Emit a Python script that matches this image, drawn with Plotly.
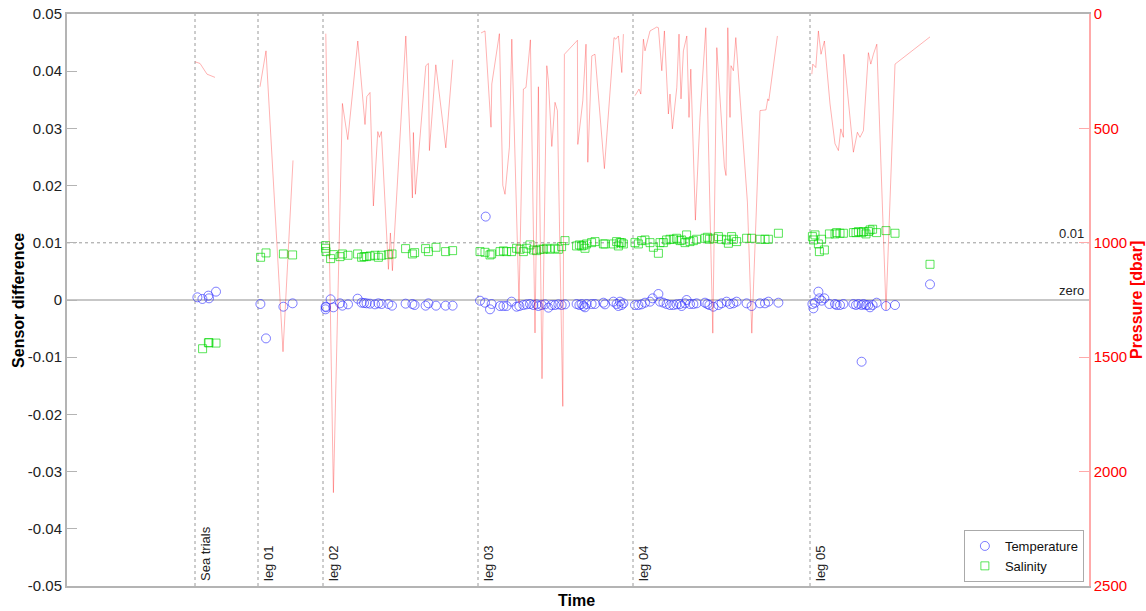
import plotly.graph_objects as go

# ---- data (time in days since start) ----
leg_names = ["Sea trials", "leg 01", "leg 02", "leg 03", "leg 04", "leg 05"]
leg_start = [64, 95.5, 128, 205.5, 283, 371.5]

y_tickvals = [-0.05, -0.04, -0.03, -0.02, -0.01, 0, 0.01, 0.02, 0.03, 0.04, 0.05]
y_ticktext = ["-0.05", "-0.04", "-0.03", "-0.02", "-0.01", "0", "0.01", "0.02", "0.03", "0.04", "0.05"]
p_tickvals = [0, 500, 1000, 1500, 2000, 2500]

# Temperature sensor difference (x 0.001)
temp_day = [65.2, 67.7, 70.7, 71, 74.5,
            96.7, 99.5, 108.2, 112.8,
            129.3, 129.3, 129.5, 131.8, 133.2, 136.5, 137.7, 140.5, 145.3, 147.3, 148.5, 149.8, 151.5, 154,
            155.7, 157.3, 160.7, 162.5, 169.3, 172.7, 173.8, 179.3, 180.7, 184.5, 189.3, 192.8,
            206.5, 209, 209.35, 211.5, 212.3, 216.5, 218.2, 219.8, 222.3, 224.8, 226.2, 228.2, 229.8, 231.5,
            233.2, 234.8, 235.7, 237.3, 239, 240.7, 242.3, 244, 245.7, 247.3, 249, 254.8, 256.2, 257.3, 258.2,
            259, 259.8, 262.3, 264, 268.2, 269, 273.2, 274.8, 275.7, 276.5, 277.3, 278.2,
            284, 285.7, 287.3, 289, 291.5, 292.8, 295.7, 296.5, 298.2, 299.8, 301.5, 303.2, 304.8, 306.5,
            307.3, 309, 309.8, 311.5, 313.2, 314.8, 319, 320.2, 321.2, 323.2, 325.7, 327.3, 329.8, 331.5,
            333.2, 334.8, 339.8, 342.3, 346.5, 349, 350.7, 355.7,
            372.7, 373.2, 374, 375.7, 376.2, 377.3, 378.7, 381.2, 384, 384.8, 386.5, 388.2, 393.2, 394.5,
            395.7, 397.3, 398.2, 399.5, 400.7, 401.5, 402.8, 404.8, 409.5, 414, 397.3, 431.5]
temp_milli = [0.47, 0.18, 0.76, 0.29, 1.46,
              -0.7, -6.71, -1.17, -0.58,
              -1.17, -1.63, -1.28, 0.12, -1.28, -0.58, -0.99, -0.76, 0.23, -0.47, -0.52, -0.58, -0.64, -0.76,
              -0.58, -0.7, -0.7, -0.99, -0.64, -0.7, -0.88, -0.99, -0.58, -0.99, -0.99, -0.99,
              -0.12, -0.47, 14.58, -1.63, -0.7, -1.05, -1.05, -1.05, -0.29, -1.17, -1.05, -0.88, -0.76, -0.7,
              -0.88, -0.76, -1.05, -0.88, -0.76, -1.34, -0.88, -0.88, -0.76, -0.88, -0.76, -0.7, -0.88, -0.7, -1.05,
              -1.28, -0.7, -0.7, -0.7, -0.47, -0.76, -0.29, -0.7, -1.05, -0.29, -0.88, -0.58,
              -0.88, -0.88, -0.76, -0.47, -0.29, 0.29, 1.05, -0.29, -0.47, -0.7, -0.88, -0.88, -0.76, -0.7,
              -1.05, -0.58, 0.0, -0.7, -0.7, -0.58, -0.47, -0.7, -0.88, -1.17, -0.88, -0.58, -0.29, -0.7,
              -0.58, -0.29, -0.58, -1.05, -0.58, -0.58, -0.29, -0.47,
              -0.7, -1.46, -0.47, 1.46, 0.29, -0.12, 0.29, -0.7, -0.7, -0.88, -0.88, -0.7, -0.7, -0.88,
              -0.7, -0.88, -0.7, -0.88, -0.88, -1.28, -0.88, -0.47, -1.05, -0.88, -10.79, 2.74]

# Salinity sensor difference (x 0.001)
sal_day = [67.8, 70.7, 71, 74.5,
           96.8, 99.5, 108.2, 112.8,
           129.3, 129.3, 129.5, 131.8, 133.2, 136.5, 137.7, 140.5, 145.3, 147.3, 148.5, 149.8, 151.5, 154,
           155.7, 157.3, 160.7, 162.5, 169.3, 172.7, 173.8, 179.3, 180.7, 184.5, 189.3, 192.8,
           206.5, 209, 211.5, 212.3, 216.5, 218.2, 219.8, 222.3, 224.8, 226.5, 228.2, 229.8, 231.5, 233.2,
           234.8, 236.5, 238.2, 239.8, 241.5, 244, 245.7, 247.3, 249, 254.8, 256.2, 257.3, 258.2, 259, 259.8,
           262.3, 264, 268.2, 269, 273.2, 274.8, 275.7, 276.5, 277.3, 278.2,
           284, 285.7, 287.3, 289, 291.5, 293.2, 295.7, 296.5, 298.2, 299.8, 301.5, 303.2, 304.8, 306.5,
           307.3, 309, 309.8, 311.5, 313.2, 314.8, 319, 320.2, 321.2, 323.2, 325.7, 327.3, 329.8, 330.7,
           332.3, 333.2, 334.8, 339.8, 342.3, 346.5, 349, 350.7, 355.7,
           372.7, 373.2, 374, 375.7, 376.2, 377.3, 378.7, 381.2, 384, 384.8, 386.5, 388.2, 393.2, 394.5,
           395.7, 397.3, 398.2, 399.5, 400.7, 401.5, 402.8, 404.8, 409.5, 414, 431.5]
sal_milli = [-8.52, -7.47, -7.47, -7.53,
             7.47, 8.23, 8.05, 7.88,
             9.51, 9.04, 8.46, 7.23, 7.93, 7.58, 8.05, 7.82, 8.05, 7.47, 7.58, 7.58, 7.7, 7.82,
             7.47, 7.82, 7.93, 8.05, 8.98, 8.05, 8.28, 8.98, 8.46, 9.22, 8.46, 8.63,
             8.46, 8.34, 7.88, 8.05, 8.46, 8.58, 8.46, 8.46, 9.04, 8.87, 8.46, 9.04, 9.63, 8.75,
             8.63, 8.87, 8.87, 9.04, 8.87, 9.04, 8.87, 9.33, 10.38, 9.45, 9.63, 9.45, 9.57, 9.04, 9.8,
             10.03, 10.21, 9.8, 9.8, 9.8, 10.21, 9.45, 10.03, 10.03, 9.8,
             10.03, 9.8, 10.38, 10.5, 10.03, 9.22, 8.17, 10.03, 10.03, 10.5, 10.62, 10.62, 10.79, 10.38,
             10.5, 10.03, 11.38, 10.21, 10.38, 10.62, 10.79, 10.97, 10.62, 10.79, 11.08, 10.62, 10.5, 9.92,
             11.08, 10.62, 10.21, 10.79, 10.79, 10.62, 10.62, 10.62, 11.67,
             11.08, 10.5, 11.38, 9.8, 8.46, 10.62, 8.75, 11.55, 11.55, 11.78, 11.67, 11.67, 11.78, 11.78,
             11.96, 11.78, 11.96, 11.55, 11.96, 12.25, 12.37, 11.78, 12.13, 11.67, 6.24]

# Pressure [dbar], one list per deployment (gaps between them)
pres_day_seg = [
    [64, 66.5, 70, 74],
    [96.5, 99.5, 108, 113],
    [129.4, 133.2, 137.7, 140.4, 145.4, 149, 149.9, 151.5, 153.2, 155.4, 156.2, 157.2, 160.7, 161.7,
     162.7, 169.4, 172.7, 173.2, 174.2, 179.4, 180.7, 181.2, 184.4, 189.4, 192.9],
    [207, 209, 212, 212.4, 216.2, 217.9, 219, 221.2, 222.4, 226, 228.2, 229.5, 231.7, 234, 235.7,
     237.5, 239.9, 240.7, 242.4, 244, 245.2, 247.9, 248.7, 255.2, 255.4, 256.5, 257.9, 259.5, 260.4,
     262.4, 264, 268.7, 273.5, 274.4, 275.7, 277.4, 278.2],
    [284, 286, 286.9, 288.2, 289, 291.5, 294.9, 295.7, 297.4, 298.7, 300.7, 301.5, 302.7, 304.9, 306,
     307, 308.2, 309.9, 311, 311.9, 314.2, 316.5, 319.4, 322.9, 324.9, 328.7, 329.5, 330.4, 331.5, 332,
     333.2, 334.4, 340.2, 342.4, 346.5, 349.5, 350.4, 350.9, 355.2],
    [372.4, 372.9, 374.4, 375.7, 377, 378.7, 381.5, 384, 385.7, 386.9, 388.2, 388.4, 393.2, 395.2,
     396.5, 398.2, 400.7, 401.9, 403.2, 404.9, 409.5, 414, 431.5],
]
pres_dbar_seg = [
    [209, 216, 263, 277],
    [318, 161, 1476, 640],
    [86, 2092, 391, 549, 118, 483, 361, 343, 839, 514, 539, 514, 1116, 957,
     1122, 96, 804, 518, 788, 226, 216, 597, 222, 585, 200],
    [83, 74, 495, 306, 86, 749, 788, 582, 110, 1263, 328, 321, 113, 1394, 318,
     1594, 226, 292, 579, 386, 422, 1715, 176, 115, 570, 480, 379, 132, 648,
     183, 176, 676, 103, 110, 96, 256, 88],
    [357, 328, 350, 110, 161, 74, 57, 60, 248, 74, 437, 350, 502, 321, 88,
     371, 161, 96, 452, 241, 901, 452, 60, 1395, 147, 669, 706, 60, 452, 226,
     248, 103, 822, 1395, 422, 419, 371, 379, 96],
    [263, 219, 234, 74, 176, 118, 393, 567, 597, 502, 539, 176, 604, 517,
     539, 510, 169, 219, 176, 132, 1293, 219, 100],
]

pres_day, pres_dbar = [], []
for d, p in zip(pres_day_seg, pres_dbar_seg):
    pres_day += d + [None]
    pres_dbar += p + [None]

temp_val = [v / 1000 for v in temp_milli]
sal_val = [v / 1000 for v in sal_milli]

FONT = "Liberation Sans, Arial, sans-serif"
GREY = "#b4b4b4"

fig = go.Figure()
fig.add_trace(go.Scatter(x=pres_day, y=pres_dbar, mode="lines", yaxis="y2",
                         line=dict(color="rgba(255,0,0,0.3)", width=1),
                         showlegend=False, connectgaps=False, hoverinfo="skip"))
fig.add_trace(go.Scatter(x=temp_day, y=temp_val, mode="markers", name="Temperature",
                         marker=dict(symbol="circle-open", size=9, color="rgba(40,40,255,0.6)",
                                     line=dict(width=1))))
fig.add_trace(go.Scatter(x=sal_day, y=sal_val, mode="markers", name="Salinity",
                         marker=dict(symbol="square-open", size=8, color="rgba(0,215,0,0.65)",
                                     line=dict(width=1))))

shapes = [
    dict(type="line", xref="paper", yref="y", x0=0, x1=1, y0=0, y1=0,
         line=dict(color=GREY, width=1.5), layer="below"),
    dict(type="line", xref="paper", yref="y", x0=0, x1=1, y0=0.01, y1=0.01,
         line=dict(color="#999999", width=1, dash="dot"), layer="below"),
]
annotations = [
    dict(x=1, xref="paper", y=0.01, yref="y", text="0.01", showarrow=False,
         xanchor="right", yanchor="bottom", xshift=-3, font=dict(family=FONT, size=13, color="#222")),
    dict(x=1, xref="paper", y=0, yref="y", text="zero", showarrow=False,
         xanchor="right", yanchor="bottom", xshift=-3, font=dict(family=FONT, size=13, color="#222")),
    dict(x=-0.048, xref="paper", y=0.5, yref="paper", text="<b>Sensor difference</b>", showarrow=False,
         textangle=-90, xanchor="center", yanchor="middle",
         font=dict(family=FONT, size=16, color="black")),
    dict(x=1.046, xref="paper", y=0.5, yref="paper", text="<b>Pressure [dbar]</b>", showarrow=False,
         textangle=-90, xanchor="center", yanchor="middle",
         font=dict(family=FONT, size=16, color="red")),
    dict(x=0.499, xref="paper", y=-0.0245, yref="paper", text="<b>Time</b>", showarrow=False,
         xanchor="center", yanchor="middle", font=dict(family=FONT, size=16, color="black")),
]
for name, d in zip(leg_names, leg_start):
    shapes.append(dict(type="line", xref="x", yref="paper", x0=d, x1=d, y0=0, y1=1,
                       line=dict(color="#9a9a9a", width=1, dash="dot"), layer="below"))
    annotations.append(dict(x=d, xref="x", y=0, yref="paper", text=name, showarrow=False,
                            textangle=-90, xanchor="left", yanchor="bottom", xshift=1, yshift=3,
                            font=dict(family=FONT, size=13, color="#222")))

fig.update_layout(
    width=1146, height=611,
    margin=dict(l=67, r=57, t=14, b=25, autoexpand=False),
    paper_bgcolor="white", plot_bgcolor="white",
    font=dict(family=FONT, size=15, color="#222"),
    shapes=shapes, annotations=annotations,
    xaxis=dict(range=[0, 511], showticklabels=False, ticks="", showgrid=False, zeroline=False,
               showline=True, linecolor=GREY, linewidth=2, mirror=True, automargin=False),
    yaxis=dict(range=[-0.05, 0.05], tickvals=y_tickvals, ticktext=y_ticktext, ticks="inside", ticklen=10,
               tickcolor=GREY, showgrid=False, zeroline=False, showline=True, linecolor=GREY,
               linewidth=2, automargin=False, tickfont=dict(family=FONT, size=15, color="#222")),
    yaxis2=dict(range=[2500, 0], tickvals=p_tickvals, overlaying="y", side="right", ticks="inside",
                ticklen=10, tickcolor="#ffaaaa", showgrid=False, zeroline=False, showline=True,
                linecolor="#ffaaaa", linewidth=1.5, automargin=False,
                tickfont=dict(family=FONT, size=15, color="red")),
    legend=dict(x=0.995, y=0.007, xanchor="right", yanchor="bottom", bgcolor="white",
                bordercolor="#aaaaaa", borderwidth=1, font=dict(family=FONT, size=13, color="#111"),
                tracegroupgap=0, itemwidth=30),
)

fig.write_html("out.html", config={"displayModeBar": False},
               post_script="document.body.style.margin='0';document.body.style.overflow='hidden';")
